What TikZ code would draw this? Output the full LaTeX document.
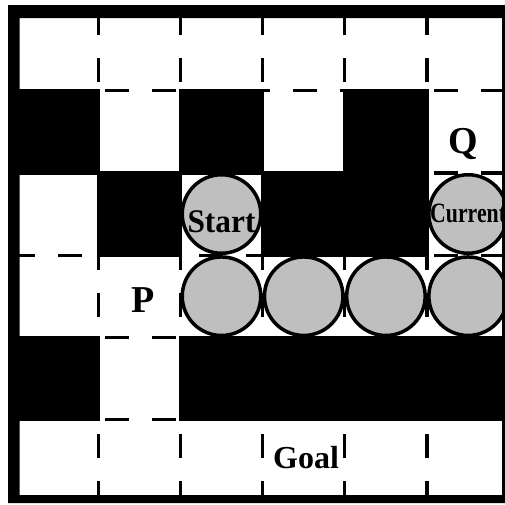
\documentclass[tikz,border=0pt]{standalone}
\usepackage{fontspec}
\setmainfont{Liberation Serif}

\begin{document}
\begin{tikzpicture}[x=1pt,y=-1pt,
  wall/.style={fill=black,draw=black,line width=3.4pt},
  gridline/.style={line width=3.2pt,dash pattern=on 24pt off 23pt},
  robot/.style={circle,draw=black,line width=3.5pt,fill=black!25,minimum size=78.5pt,inner sep=0pt},
  tag/.style={font=\fontsize{#1}{#1}\selectfont\bfseries,inner sep=0pt,anchor=base}]
  \useasboundingbox (0,0) rectangle (505,504);

  \begin{scope}[shift={(16,8.5)},x=82.2pt,y=-82.2pt]
    % dashed cell borders
    \foreach \r in {1,...,5}
      \draw[gridline,dash phase=5pt] (0,\r) -- (6,\r);
    \foreach \c in {1,...,5}
      \draw[gridline,dash phase=44.5pt] (\c,0) -- (\c,6);

    % obstacles
    \foreach \c/\r in {1/2,3/2,5/2,2/3,4/3,5/3,1/5,3/5,4/5,5/5,6/5}
      \filldraw[wall] (\c-1,\r-1) rectangle (\c,\r);

    % robot positions
    \node[robot] (start) at (2.5,2.5) {};
    \node[robot] (current) at (5.5,2.5) {};
    \foreach \i in {1,...,4}
      \node[robot] (trail\i) at (1.5+\i,3.5) {};

    \node[tag=33,xscale=0.95] (startlbl) at ([yshift=-18pt]start.center) {Start};
    \node[tag=28,xscale=0.78] (currentlbl) at ([yshift=-8pt]current.center) {Current};
    \node[tag=38] (q) at (5.438,1.758) {Q};
    \node[tag=38] (p) at (1.545,3.704) {P};
    \node[tag=32] (goal) at (3.528,5.590) {Goal};
  \end{scope}

  % frame
  \fill[black,even odd rule] (8,5) rectangle (505,503) (19.5,18) rectangle (502,495);
\end{tikzpicture}
\end{document}
